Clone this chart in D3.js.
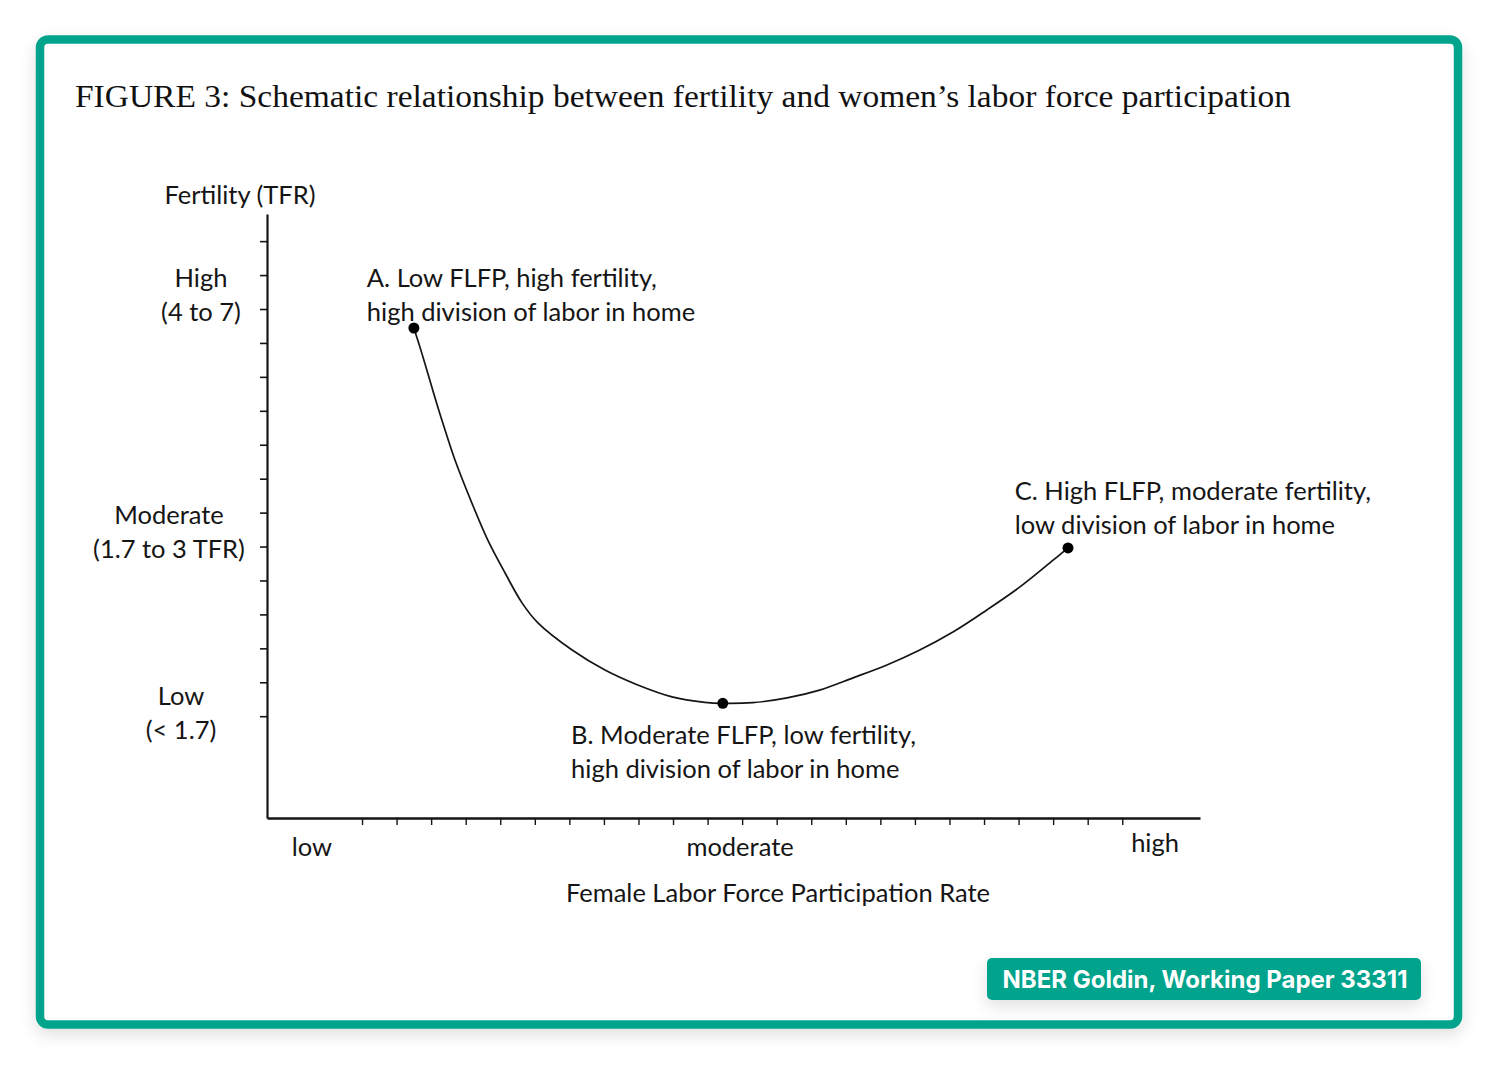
<!DOCTYPE html>
<html>
<head>
<meta charset="utf-8">
<script src="https://cdn.jsdelivr.net/npm/d3@7"></script>
<style>
  body { margin: 0; background: #fff; }
  svg { display: block; }
</style>
</head>
<body>
<svg id="chart" width="1498" height="1065"></svg>
<script>
// curve (x: FLFP in tick units, y: fertility in tick units)
const curveX = [4.25, 4.48, 4.77, 5.06, 5.44, 5.93, 6.39, 6.89, 7.38, 7.84, 8.83, 9.78, 10.73, 11.72, 12.67, 13.19,
                14.06, 15.05, 15.99, 16.96, 17.94, 18.89, 19.85, 20.83, 21.79, 22.74, 23.18];
const curveY = [14.44, 13.70, 12.70, 11.73, 10.55, 9.28, 8.19, 7.22, 6.34, 5.75, 4.95, 4.36, 3.92, 3.57, 3.41, 3.38,
                3.40, 3.54, 3.77, 4.13, 4.51, 4.95, 5.48, 6.13, 6.81, 7.59, 7.96];

// the three marked points
const pointNames = ['A', 'B', 'C'];
const pointX = [4.25, 13.19, 23.18];
const pointY = [14.44, 3.38, 7.96];
const pointText = [
  ['A. Low FLFP, high fertility,', 'high division of labor in home'],
  ['B. Moderate FLFP, low fertility,', 'high division of labor in home'],
  ['C. High FLFP, moderate fertility,', 'low division of labor in home']
];
const labelX = [2.89, 8.80, 21.64];
const labelY = [15.92, 2.45, 9.64];

// axis labels
const yLevels = [['High', '(4 to 7)'], ['Moderate', '(1.7 to 3 TFR)'], ['Low', '(< 1.7)']];
const yLevelAt = [15.9, 8.93, 3.6];
const yLevelX = [201, 169, 181];
const xLevels = ['low', 'moderate', 'high'];
const xLevelAt = [1.3, 13.69, 25.7];

const yTicks = d3.range(3, 18);
const xTicks = d3.range(2.75, 25, 1);

const title = 'FIGURE 3: Schematic relationship between fertility and women\u2019s labor force participation';
const source = 'NBER Goldin, Working Paper 33311';

const teal = '#00a38c';
const ink = '#151515';
const sans = 'Lato, "Open Sans", sans-serif';
const fs = 25.5;

let svg = d3.select('#chart');

let defs = svg.append('defs');
let shadow = defs.append('filter').attr('id', 'shadow')
  .attr('x', '-20%').attr('y', '-40%').attr('width', '140%').attr('height', '200%');
shadow.append('feDropShadow')
  .attr('dx', 0).attr('dy', 6).attr('stdDeviation', 8)
  .attr('flood-color', '#000').attr('flood-opacity', 0.12);

// frame
svg.append('rect')
  .attr('x', 40).attr('y', 39.5)
  .attr('width', 1418).attr('height', 985)
  .attr('rx', 8)
  .attr('fill', '#fff')
  .attr('stroke', teal)
  .attr('stroke-width', 8.5)
  .attr('filter', 'url(#shadow)');

svg.append('text')
  .attr('x', 75).attr('y', 107)
  .attr('font-family', '"Liberation Serif", "DejaVu Serif", serif')
  .attr('font-size', 31)
  .attr('fill', '#111')
  .attr('textLength', 1216)
  .attr('lengthAdjust', 'spacingAndGlyphs')
  .text(title);

// scales
let x = d3.scaleLinear().domain([0, 27]).range([267, 1200]);
let y = d3.scaleLinear().domain([0, 17.8]).range([818, 214]);

let g = svg.append('g');

// y axis
let yAxis = g.append('g')
  .attr('transform', `translate(${x(0)},0)`)
  .call(d3.axisLeft(y).tickValues(yTicks).tickSize(7).tickSizeOuter(0).tickFormat(''));
yAxis.select('.domain').attr('stroke', ink).attr('stroke-width', 2.2);
yAxis.selectAll('.tick line').attr('stroke', ink).attr('stroke-width', 1.6);

// x axis
let xAxis = g.append('g')
  .attr('transform', `translate(0,${y(0)})`)
  .call(d3.axisBottom(x).tickValues(xTicks).tickSize(7).tickSizeOuter(0).tickFormat(''));
xAxis.select('.domain').attr('stroke', ink).attr('stroke-width', 2.6);
xAxis.selectAll('.tick line').attr('stroke', ink).attr('stroke-width', 1.4);

// axis titles
g.append('text')
  .attr('x', 240).attr('y', 204)
  .attr('text-anchor', 'middle')
  .attr('font-family', sans).attr('font-size', fs).attr('fill', ink)
  .text('Fertility (TFR)');

g.append('text')
  .attr('x', 778).attr('y', 902)
  .attr('text-anchor', 'middle')
  .attr('font-family', sans).attr('font-size', fs).attr('fill', ink)
  .text('Female Labor Force Participation Rate');

// y level labels
yLevels.forEach((lines, i) => {
  lines.forEach((line, j) => {
    g.append('text')
      .attr('x', yLevelX[i])
      .attr('y', y(yLevelAt[i]) + j * 34)
      .attr('dy', '0.35em')
      .attr('text-anchor', 'middle')
      .attr('font-family', sans).attr('font-size', fs).attr('fill', ink)
      .text(line);
  });
});

// x level labels
g.selectAll('.xlevel')
  .data(xLevels)
  .enter()
  .append('text')
  .attr('class', 'xlevel')
  .attr('x', (d, i) => x(xLevelAt[i]))
  .attr('y', (d, i) => i === 2 ? 852 : 856)
  .attr('text-anchor', 'middle')
  .attr('font-family', sans).attr('font-size', fs).attr('fill', ink)
  .text(d => d);

// the curve
let line = d3.line()
  .x(d => x(d[0]))
  .y(d => y(d[1]))
  .curve(d3.curveCatmullRom.alpha(0.5));

g.append('path')
  .datum(curveX.map((v, i) => [v, curveY[i]]))
  .attr('d', line)
  .attr('fill', 'none')
  .attr('stroke', ink)
  .attr('stroke-width', 1.7);

// points
g.selectAll('.pt')
  .data(pointNames)
  .enter()
  .append('circle')
  .attr('class', 'pt')
  .attr('cx', (d, i) => x(pointX[i]))
  .attr('cy', (d, i) => y(pointY[i]))
  .attr('r', 5.5)
  .attr('fill', '#000');

// point labels
pointText.forEach((lines, i) => {
  lines.forEach((txt, j) => {
    g.append('text')
      .attr('x', x(labelX[i]))
      .attr('y', y(labelY[i]) + j * 34)
      .attr('dy', '0.35em')
      .attr('font-family', sans).attr('font-size', fs).attr('fill', ink)
      .text(txt);
  });
});

// source badge
let badge = svg.append('g').attr('transform', 'translate(987,958)');
badge.append('rect')
  .attr('width', 434).attr('height', 42).attr('rx', 5)
  .attr('fill', teal)
  .attr('filter', 'url(#shadow)');
badge.append('text')
  .attr('x', 218).attr('y', 21)
  .attr('dy', '0.36em')
  .attr('text-anchor', 'middle')
  .attr('font-family', 'Inter, Roboto, sans-serif')
  .attr('font-weight', 700)
  .attr('font-size', 24)
  .attr('fill', '#fff')
  .text(source);
</script>
</body>
</html>
